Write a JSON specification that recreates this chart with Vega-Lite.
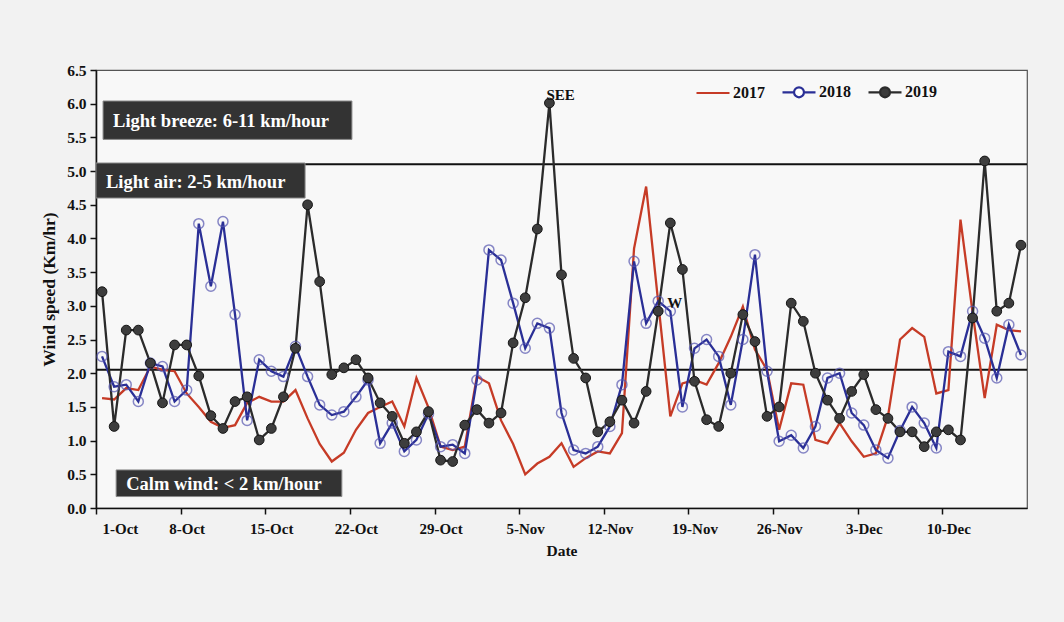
{
  "$schema": "https://vega.github.io/schema/vega-lite/v6.json",
  "width": 931,
  "height": 438,
  "autosize": {"type": "none"},
  "padding": {"left": 96, "top": 70, "right": 37, "bottom": 114},
  "background": "#f2f2f2",
  "config": {
    "view": {"fill": "#f8f8f8", "stroke": "#555555", "strokeWidth": 1.2},
    "font": "Liberation Serif",
    "axis": {"grid": false, "domainColor": "#111111", "domainWidth": 1.6, "tickColor": "#111111", "tickWidth": 1.5, "tickSize": 6,
             "labelFont": "Liberation Serif", "labelFontWeight": "bold", "labelColor": "#111111",
             "titleFont": "Liberation Serif", "titleFontWeight": "bold", "titleColor": "#111111"}
  },
  "datasets": {
    "wind": [
      {"date":"2019-10-01","2017":1.63,"2018":2.25,"2019":3.21},
      {"date":"2019-10-02","2017":1.61,"2018":1.8,"2019":1.21},
      {"date":"2019-10-03","2017":1.78,"2018":1.83,"2019":2.64},
      {"date":"2019-10-04","2017":1.75,"2018":1.58,"2019":2.64},
      {"date":"2019-10-05","2017":2.1,"2018":2.15,"2019":2.15},
      {"date":"2019-10-06","2017":2.05,"2018":2.1,"2019":1.56},
      {"date":"2019-10-07","2017":2.03,"2018":1.58,"2019":2.42},
      {"date":"2019-10-08","2017":1.7,"2018":1.75,"2019":2.42},
      {"date":"2019-10-09","2017":1.5,"2018":4.22,"2019":1.96},
      {"date":"2019-10-10","2017":1.28,"2018":3.29,"2019":1.37},
      {"date":"2019-10-11","2017":1.19,"2018":4.25,"2019":1.18},
      {"date":"2019-10-12","2017":1.23,"2018":2.87,"2019":1.58},
      {"date":"2019-10-13","2017":1.56,"2018":1.3,"2019":1.65},
      {"date":"2019-10-14","2017":1.65,"2018":2.2,"2019":1.01},
      {"date":"2019-10-15","2017":1.58,"2018":2.03,"2019":1.18},
      {"date":"2019-10-16","2017":1.58,"2018":1.95,"2019":1.65},
      {"date":"2019-10-17","2017":1.75,"2018":2.4,"2019":2.37},
      {"date":"2019-10-18","2017":1.33,"2018":1.95,"2019":4.5},
      {"date":"2019-10-19","2017":0.95,"2018":1.53,"2019":3.36},
      {"date":"2019-10-20","2017":0.69,"2018":1.38,"2019":1.98},
      {"date":"2019-10-21","2017":0.82,"2018":1.43,"2019":2.08},
      {"date":"2019-10-22","2017":1.16,"2018":1.65,"2019":2.2},
      {"date":"2019-10-23","2017":1.41,"2018":1.9,"2019":1.93},
      {"date":"2019-10-24","2017":1.5,"2018":0.96,"2019":1.56},
      {"date":"2019-10-25","2017":1.58,"2018":1.26,"2019":1.36},
      {"date":"2019-10-26","2017":1.21,"2018":0.84,"2019":0.96},
      {"date":"2019-10-27","2017":1.93,"2018":1.01,"2019":1.13},
      {"date":"2019-10-28","2017":1.49,"2018":1.4,"2019":1.43},
      {"date":"2019-10-29","2017":0.91,"2018":0.91,"2019":0.71},
      {"date":"2019-10-30","2017":0.86,"2018":0.94,"2019":0.69},
      {"date":"2019-10-31","2017":0.91,"2018":0.81,"2019":1.23},
      {"date":"2019-11-01","2017":1.95,"2018":1.9,"2019":1.46},
      {"date":"2019-11-02","2017":1.85,"2018":3.83,"2019":1.26},
      {"date":"2019-11-03","2017":1.3,"2018":3.68,"2019":1.41},
      {"date":"2019-11-04","2017":0.95,"2018":3.04,"2019":2.45},
      {"date":"2019-11-05","2017":0.5,"2018":2.37,"2019":3.12},
      {"date":"2019-11-06","2017":0.66,"2018":2.74,"2019":4.14},
      {"date":"2019-11-07","2017":0.76,"2018":2.67,"2019":6.01},
      {"date":"2019-11-08","2017":0.96,"2018":1.41,"2019":3.46},
      {"date":"2019-11-09","2017":0.61,"2018":0.86,"2019":2.22},
      {"date":"2019-11-10","2017":0.74,"2018":0.81,"2019":1.93},
      {"date":"2019-11-11","2017":0.84,"2018":0.91,"2019":1.13},
      {"date":"2019-11-12","2017":0.81,"2018":1.21,"2019":1.28},
      {"date":"2019-11-13","2017":1.11,"2018":1.83,"2019":1.6},
      {"date":"2019-11-14","2017":3.85,"2018":3.66,"2019":1.26},
      {"date":"2019-11-15","2017":4.77,"2018":2.74,"2019":1.73},
      {"date":"2019-11-16","2017":3.05,"2018":3.07,"2019":2.92},
      {"date":"2019-11-17","2017":1.36,"2018":2.92,"2019":4.23},
      {"date":"2019-11-18","2017":1.85,"2018":1.5,"2019":3.54},
      {"date":"2019-11-19","2017":1.9,"2018":2.37,"2019":1.88},
      {"date":"2019-11-20","2017":1.83,"2018":2.5,"2019":1.31},
      {"date":"2019-11-21","2017":2.15,"2018":2.25,"2019":1.21},
      {"date":"2019-11-22","2017":2.54,"2018":1.53,"2019":2.0},
      {"date":"2019-11-23","2017":2.99,"2018":2.5,"2019":2.87},
      {"date":"2019-11-24","2017":2.35,"2018":3.76,"2019":2.47},
      {"date":"2019-11-25","2017":2.05,"2018":2.03,"2019":1.36},
      {"date":"2019-11-26","2017":1.16,"2018":0.99,"2019":1.5},
      {"date":"2019-11-27","2017":1.85,"2018":1.08,"2019":3.04},
      {"date":"2019-11-28","2017":1.83,"2018":0.89,"2019":2.77},
      {"date":"2019-11-29","2017":1.01,"2018":1.21,"2019":2.0},
      {"date":"2019-11-30","2017":0.96,"2018":1.93,"2019":1.6},
      {"date":"2019-12-01","2017":1.26,"2018":2.0,"2019":1.33},
      {"date":"2019-12-02","2017":0.99,"2018":1.41,"2019":1.73},
      {"date":"2019-12-03","2017":0.76,"2018":1.23,"2019":1.98},
      {"date":"2019-12-04","2017":0.81,"2018":0.86,"2019":1.46},
      {"date":"2019-12-05","2017":1.36,"2018":0.74,"2019":1.33},
      {"date":"2019-12-06","2017":2.5,"2018":1.15,"2019":1.13},
      {"date":"2019-12-07","2017":2.67,"2018":1.5,"2019":1.13},
      {"date":"2019-12-08","2017":2.54,"2018":1.26,"2019":0.91},
      {"date":"2019-12-09","2017":1.7,"2018":0.89,"2019":1.13},
      {"date":"2019-12-10","2017":1.75,"2018":2.32,"2019":1.16},
      {"date":"2019-12-11","2017":4.28,"2018":2.25,"2019":1.01},
      {"date":"2019-12-12","2017":2.9,"2018":2.92,"2019":2.82},
      {"date":"2019-12-13","2017":1.63,"2018":2.52,"2019":5.15},
      {"date":"2019-12-14","2017":2.72,"2018":1.93,"2019":2.92},
      {"date":"2019-12-15","2017":2.64,"2018":2.72,"2019":3.04},
      {"date":"2019-12-16","2017":2.62,"2018":2.27,"2019":3.9}
    ],
    "levels": [{"lv": 2.05}, {"lv": 5.1}],
    "boxes": [
      {"t": "Light breeze: 6-11 km/hour", "x1": "2019-10-01T14:00:00Z", "x2": "2019-10-22T04:00:00Z", "y1": 5.47, "y2": 6.04, "ym": 5.755},
      {"t": "Light air: 2-5 km/hour", "x1": "2019-10-01T00:00:00Z", "x2": "2019-10-18T07:00:00Z", "y1": 4.6, "y2": 5.12, "ym": 4.86},
      {"t": "Calm wind: < 2 km/hour", "x1": "2019-10-02T16:00:00Z", "x2": "2019-10-21T08:00:00Z", "y1": 0.17, "y2": 0.565, "ym": 0.37}
    ],
    "notes": [
      {"date": "2019-11-07", "v": 6.01, "t": "SEE"},
      {"date": "2019-11-17", "v": 2.92, "t": "W"}
    ]
  },
  "encoding": {
    "y": {"type": "quantitative", "scale": {"domain": [0, 6.5], "nice": false},
          "axis": {"title": "Wind speed (Km/hr)", "titleFontSize": 17.5, "titlePadding": 8, "labelFontSize": 15.5, "labelPadding": 4,
                   "labelOverlap": false, "labelSeparation": 0,
                   "values": [0, 0.5, 1, 1.5, 2, 2.5, 3, 3.5, 4, 4.5, 5, 5.5, 6, 6.5],
                   "labelExpr": "format(datum.value, '.1f')"}}
  },
  "layer": [
    {
      "data": {"name": "levels"},
      "mark": {"type": "rule", "color": "#111111", "strokeWidth": 2},
      "encoding": {"y": {"field": "lv"}}
    },
    {
      "data": {"name": "wind"},
      "transform": [{"fold": ["2017", "2018", "2019"], "as": ["year", "v"]}],
      "mark": {"type": "line", "strokeWidth": 2.3},
      "encoding": {
        "x": {"field": "date", "type": "temporal", "timeUnit": "utcyearmonthdate", "bandPosition": 0.5,
              "scale": {"type": "utc", "domain": [{"year": 2019, "month": "oct", "date": 1, "utc": true}, {"year": 2019, "month": "dec", "date": 17, "utc": true}]},
              "axis": {"title": "Date", "titleFontSize": 15.5, "titlePadding": 7, "labelFontSize": 15, "labelPadding": 7, "labelOffset": 6,
                       "labelOverlap": false,
                       "values": [
                         {"year": 2019, "month": "oct", "date": 1, "utc": true},
                         {"year": 2019, "month": "oct", "date": 8, "utc": true},
                         {"year": 2019, "month": "oct", "date": 15, "utc": true},
                         {"year": 2019, "month": "oct", "date": 22, "utc": true},
                         {"year": 2019, "month": "oct", "date": 29, "utc": true},
                         {"year": 2019, "month": "nov", "date": 5, "utc": true},
                         {"year": 2019, "month": "nov", "date": 12, "utc": true},
                         {"year": 2019, "month": "nov", "date": 19, "utc": true},
                         {"year": 2019, "month": "nov", "date": 26, "utc": true},
                         {"year": 2019, "month": "dec", "date": 3, "utc": true},
                         {"year": 2019, "month": "dec", "date": 10, "utc": true}
                       ],
                       "labelExpr": "utcFormat(datum.value, '%-d-%b')"}},
        "y": {"field": "v"},
        "color": {"field": "year", "type": "nominal",
                  "scale": {"domain": ["2017", "2018", "2019"], "range": ["#c63b26", "#2a2f96", "#2b2b2b"]},
                  "legend": {"orient": "none", "legendX": 599, "legendY": 4, "direction": "horizontal", "title": null,
                             "symbolSize": 1089, "symbolStrokeWidth": 2.2, "labelFont": "Liberation Serif", "labelFontSize": 16,
                             "labelFontWeight": "bold", "labelColor": "#111111", "labelOffset": 2, "columnPadding": 13, "padding": 0,
                             "encode": {"symbols": {"update": {
                               "shape": {"signal": "datum.label == '2017' ? 'M-1,0L1,0' : 'M-1,0L-0.3,0M0.3,0L1,0M-0.3,0A0.3,0.3,0,1,0,0.3,0A0.3,0.3,0,1,0,-0.3,0'"},
                               "fill": {"signal": "datum.label == '2019' ? '#3a3a3a' : (datum.label == '2018' ? '#ffffff' : 'transparent')"}
                             }}}}}
      }
    },
    {
      "data": {"name": "wind"},
      "transform": [{"fold": ["2017", "2018", "2019"], "as": ["year", "v"]}, {"filter": "datum.year == '2018'"}],
      "mark": {"type": "point", "shape": "circle", "size": 100, "filled": false, "stroke": "#5656b0", "strokeWidth": 1.5},
      "encoding": {
        "x": {"field": "date", "type": "temporal", "timeUnit": "utcyearmonthdate", "bandPosition": 0.5, "scale": {"type": "utc"}},
        "y": {"field": "v"}
      }
    },
    {
      "data": {"name": "wind"},
      "transform": [{"fold": ["2017", "2018", "2019"], "as": ["year", "v"]}, {"filter": "datum.year == '2019'"}],
      "mark": {"type": "point", "shape": "circle", "size": 95, "filled": true, "fill": "#3d3d3d", "stroke": "#151515", "strokeWidth": 1, "opacity": 1},
      "encoding": {
        "x": {"field": "date", "type": "temporal", "timeUnit": "utcyearmonthdate", "bandPosition": 0.5, "scale": {"type": "utc"}},
        "y": {"field": "v"}
      }
    },
    {
      "data": {"name": "boxes"},
      "mark": {"type": "rect", "fill": "#333333", "stroke": "#8a8a8a", "strokeWidth": 1},
      "encoding": {
        "x": {"field": "x1", "type": "temporal", "scale": {"type": "utc"}},
        "x2": {"field": "x2"},
        "y": {"field": "y1"},
        "y2": {"field": "y2"}
      }
    },
    {
      "data": {"name": "boxes"},
      "mark": {"type": "text", "align": "left", "baseline": "middle", "dx": 10, "dy": 1, "color": "#ffffff", "font": "Liberation Serif", "fontWeight": "bold", "fontSize": 18.5},
      "encoding": {
        "x": {"field": "x1", "type": "temporal", "scale": {"type": "utc"}},
        "y": {"field": "ym"},
        "text": {"field": "t"}
      }
    },
    {
      "data": {"name": "notes"},
      "mark": {"type": "text", "align": "left", "baseline": "middle", "dx": -3, "dy": -8, "color": "#111111", "font": "Liberation Serif", "fontWeight": "bold", "fontSize": 15},
      "encoding": {
        "x": {"field": "date", "type": "temporal", "timeUnit": "utcyearmonthdate", "bandPosition": 0.5, "scale": {"type": "utc"}},
        "y": {"field": "v"},
        "text": {"field": "t"}
      }
    }
  ]
}
